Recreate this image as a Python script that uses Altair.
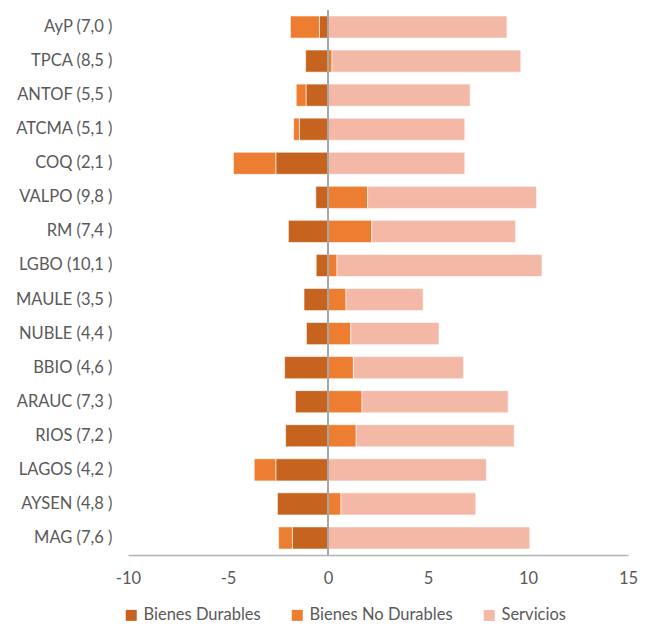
import altair as alt
import pandas as pd

regiones = ["AyP (7,0 )", "TPCA (8,5 )", "ANTOF (5,5 )", "ATCMA (5,1 )", "COQ (2,1 )",
            "VALPO (9,8 )", "RM (7,4 )", "LGBO (10,1 )", "MAULE (3,5 )", "NUBLE (4,4 )",
            "BBIO (4,6 )", "ARAUC (7,3 )", "RIOS (7,2 )", "LAGOS (4,2 )", "AYSEN (4,8 )",
            "MAG (7,6 )"]
bienes_durables = [-0.43, -1.12, -1.10, -1.43, -2.61, -0.61, -1.98, -0.59, -1.20, -1.08,
                   -2.17, -1.63, -2.12, -2.61, -2.53, -1.78]
bienes_no_durables = [-1.45, 0.20, -0.49, -0.29, -2.12, 1.98, 2.19, 0.45, 0.90, 1.14,
                      1.27, 1.70, 1.41, -1.08, 0.65, -0.69]
servicios = [8.95, 9.44, 7.11, 6.84, 6.84, 8.45, 7.19, 10.25, 3.86, 4.41,
             5.51, 7.31, 7.90, 7.92, 6.74, 10.09]
series = ["Bienes Durables", "Bienes No Durables", "Servicios"]
colores = ["#C5631F", "#ED7D31", "#F4B9A6"]
x_ticks = [-10, -5, 0, 5, 10, 15]

rows = []
for i, r in enumerate(regiones):
    for j, (s, vals) in enumerate(zip(series, [bienes_durables, bienes_no_durables, servicios])):
        rows.append({"region": r, "serie": s, "valor": vals[i], "orden": j})
df = pd.DataFrame(rows)

FONT = "Lato"
GRAY = "#595959"
FS = 16.5

x_scale = alt.Scale(domain=[-10, 15], nice=False, zero=False)

bars = alt.Chart(df).mark_bar(stroke="white", strokeWidth=0.6).encode(
    y=alt.Y("region:N", sort=regiones,
            scale=alt.Scale(paddingInner=0.35, paddingOuter=0.175),
            axis=alt.Axis(title=None, domain=False, ticks=False, labelPadding=16,
                          labelFontSize=FS, labelColor=GRAY, labelFont=FONT, labelLimit=300)),
    x=alt.X("valor:Q", stack="zero", scale=x_scale,
            axis=alt.Axis(title=None, values=x_ticks, grid=False, ticks=False,
                          domainColor="#B4B4B4", domainWidth=1.5, labelPadding=15,
                          labelExpr="'' + datum.value",
                          labelFontSize=FS, labelColor=GRAY, labelFont=FONT,
                          labelFlush=False)),
    color=alt.Color("serie:N", scale=alt.Scale(domain=series, range=colores),
                    legend=alt.Legend(title=None, orient="none", direction="horizontal",
                                      legendX=-5, legendY=597, symbolType="square",
                                      symbolSize=121, symbolStrokeWidth=0,
                                      labelFontSize=FS, labelColor=GRAY, labelFont=FONT,
                                      labelOffset=4, columnPadding=28)),
    order=alt.Order("orden:Q"),
)

zero = alt.Chart(pd.DataFrame({"x": [0]})).mark_rule(color="#A6A6A6", strokeWidth=2).encode(
    x=alt.X("x:Q", scale=x_scale)
)

chart = alt.layer(bars, zero).properties(
    width=500, height=545,
    autosize=alt.AutoSizeParams(type="none"),
    padding={"left": 120, "top": 2, "right": 12, "bottom": 71},
    background="white",
).configure_view(stroke=None)

chart.save("out.html", embed_options={"renderer": "svg", "actions": False})
